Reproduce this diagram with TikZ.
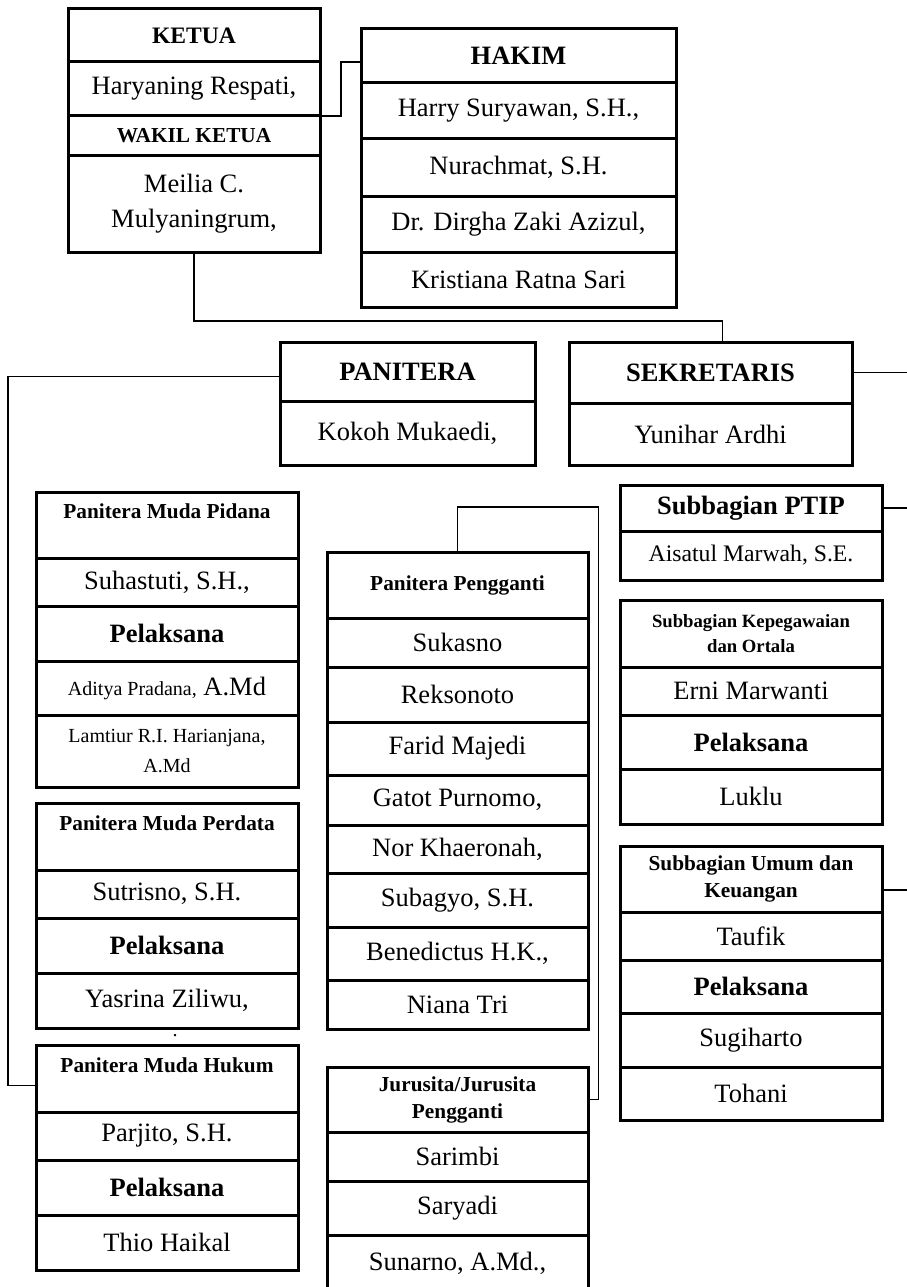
\documentclass[tikz,border=0pt]{standalone}
\usepackage{fontspec}
\setmainfont{Liberation Serif}
\usetikzlibrary{positioning}

\tikzset{
  cell/.style={draw, line width=3pt, minimum height=#1, inner sep=0pt,
    outer sep=0pt, align=center, font=\fontsize{26.5}{35}\selectfont},
  headBig/.style={font=\bfseries\fontsize{26.5}{32}\selectfont},
  headKetua/.style={font=\bfseries\fontsize{23.6}{28}\selectfont},
  headSmall/.style={font=\bfseries\fontsize{21.3}{27}\selectfont},
  headTiny/.style={font=\bfseries\fontsize{18.7}{25}\selectfont},
  nameSmall/.style={font=\fontsize{20}{30}\selectfont},
  wK/.style={minimum width=252pt},
  wH/.style={minimum width=315pt},
  wP/.style={minimum width=255pt},
  wS/.style={minimum width=283pt},
  wL/.style={minimum width=262pt},
  wM/.style={minimum width=261pt},
  wR/.style={minimum width=262pt},
  link/.style={draw, line width=1.2pt}
}

\begin{document}
\begin{tikzpicture}[x=1pt,y=-1pt]
  \useasboundingbox (0,0) rectangle (907,1287);

  % ketua / wakil ketua
  \node[cell=53, wK, headKetua, anchor=north west] (ketua) at (68,9) {KETUA};
  \node[cell=54, wK, below=0pt of ketua] (ketuaN) {Haryaning Respati,};
  \node[cell=39, wK, headSmall, below=0pt of ketuaN] (wakil) {WAKIL KETUA};
  \node[cell=97, wK, below=0pt of wakil] (wakilN) {Meilia C.\\Mulyaningrum,};

  % hakim
  \node[cell=54, wH, headBig, anchor=north west] (hakim) at (361,29) {HAKIM};
  \node[cell=56, wH, below=0pt of hakim] (hakim1) {Harry Suryawan, S.H.,};
  \node[cell=57, wH, below=0pt of hakim1] (hakim2) {Nurachmat, S.H.};
  \node[cell=56, wH, below=0pt of hakim2] (hakim3) {Dr. Dirgha Zaki Azizul,};
  \node[cell=55, wH, below=0pt of hakim3] (hakim4) {Kristiana Ratna Sari};

  % panitera, sekretaris
  \node[cell=59, wP, headBig, anchor=north west] (panitera) at (280,342) {PANITERA};
  \node[cell=64, wP, below=0pt of panitera] (paniteraN) {Kokoh Mukaedi,};
  \node[cell=61, wS, headBig, anchor=north west] (sekretaris) at (569,342) {SEKRETARIS};
  \node[cell=62, wS, below=0pt of sekretaris] (sekretarisN) {Yunihar Ardhi};

  % panitera muda
  \node[cell=66, wL, headSmall, anchor=north west] (pidana) at (36,492) {Panitera Muda Pidana\\~};
  \node[cell=48, wL, below=0pt of pidana] (pidana1) {Suhastuti, S.H.,};
  \node[cell=55, wL, headBig, below=0pt of pidana1] (pidana2) {Pelaksana};
  \node[cell=54, wL, below=0pt of pidana2] (pidana3) {{\fontsize{20}{30}\selectfont Aditya Pradana,} A.Md};
  \node[cell=72, wL, nameSmall, below=0pt of pidana3] (pidana4) {Lamtiur R.I. Harianjana,\\A.Md};

  \node[cell=67, wL, headSmall, anchor=north west] (perdata) at (36,803) {Panitera Muda Perdata\\~};
  \node[cell=48, wL, below=0pt of perdata] (perdata1) {Sutrisno, S.H.};
  \node[cell=55, wL, headBig, below=0pt of perdata1] (perdata2) {Pelaksana};
  \node[cell=55, wL, below=0pt of perdata2] (perdata3) {Yasrina Ziliwu,};
  \node[inner sep=0pt, font=\fontsize{20}{20}\selectfont] (dot) at (175,1036) {.};

  \node[cell=67, wL, headSmall, anchor=north west] (hukum) at (36,1045) {Panitera Muda Hukum\\~};
  \node[cell=48, wL, below=0pt of hukum] (hukum1) {Parjito, S.H.};
  \node[cell=55, wL, headBig, below=0pt of hukum1] (hukum2) {Pelaksana};
  \node[cell=55, wL, below=0pt of hukum2] (hukum3) {Thio Haikal};

  % panitera pengganti
  \node[cell=66, wM, headSmall, anchor=north west] (pengganti) at (327,552) {Panitera Pengganti};
  \node[cell=49, wM, below=0pt of pengganti] (pp1) {Sukasno};
  \node[cell=55, wM, below=0pt of pp1] (pp2) {Reksonoto};
  \node[cell=53, wM, below=0pt of pp2] (pp3) {Farid Majedi};
  \node[cell=50, wM, below=0pt of pp3] (pp4) {Gatot Purnomo,};
  \node[cell=48, wM, below=0pt of pp4] (pp5) {Nor Khaeronah,};
  \node[cell=54, wM, below=0pt of pp5] (pp6) {Subagyo, S.H.};
  \node[cell=53, wM, below=0pt of pp6] (pp7) {Benedictus H.K.,};
  \node[cell=49, wM, below=0pt of pp7] (pp8) {Niana Tri};

  % jurusita
  \node[cell=65, wM, headSmall, anchor=north west] (jurusita) at (327,1067) {Jurusita/Jurusita\\Pengganti};
  \node[cell=49, wM, below=0pt of jurusita] (js1) {Sarimbi};
  \node[cell=54, wM, below=0pt of js1] (js2) {Saryadi};
  \node[cell=57, wM, below=0pt of js2] (js3) {Sunarno, A.Md.,};

  % subbagian
  \node[cell=46, wR, headBig, anchor=north west] (ptip) at (620,485) {Subbagian PTIP};
  \node[cell=49, wR, font=\fontsize{23.7}{30}\selectfont, below=0pt of ptip] (ptipN) {Aisatul Marwah, S.E.};

  \node[cell=67, wR, headTiny, anchor=north west] (kepeg) at (620,600) {Subbagian Kepegawaian\\dan Ortala};
  \node[cell=48, wR, below=0pt of kepeg] (kepeg1) {Erni Marwanti};
  \node[cell=54, wR, headBig, below=0pt of kepeg1] (kepeg2) {Pelaksana};
  \node[cell=55, wR, below=0pt of kepeg2] (kepeg3) {Luklu};

  \node[cell=66, wR, headSmall, anchor=north west] (umum) at (620,846) {Subbagian Umum dan\\Keuangan};
  \node[cell=48, wR, below=0pt of umum] (umum1) {Taufik};
  \node[cell=53, wR, headBig, below=0pt of umum1] (umum2) {Pelaksana};
  \node[cell=54, wR, below=0pt of umum2] (umum3) {Sugiharto};
  \node[cell=53, wR, below=0pt of umum3] (umum4) {Tohani};

  % connectors
  \coordinate (rim) at (907,0);
  \coordinate (umumL) at ([yshift=-11pt]umum.east);
  \draw[link] (ketuaN.south east) -- ++(21,0) |- ([yshift=-6pt]hakim.west);
  \draw[link] (wakilN.south) -- ++(0,69) -| ([xshift=12pt]sekretaris.north);
  \draw[link] ([yshift=-5pt]panitera.west) -- ++(-272,0) |- ([yshift=-7pt]hukum.west);
  \draw[link] (pengganti.north) |- ++(141,-45) |- (jurusita.east);
  \draw[link] (sekretaris.east) -- (sekretaris.east -| rim);
  \draw[link] (ptip.east) -- (ptip.east -| rim);
  \draw[link] (umumL) -- (umumL -| rim);
\end{tikzpicture}
\end{document}
